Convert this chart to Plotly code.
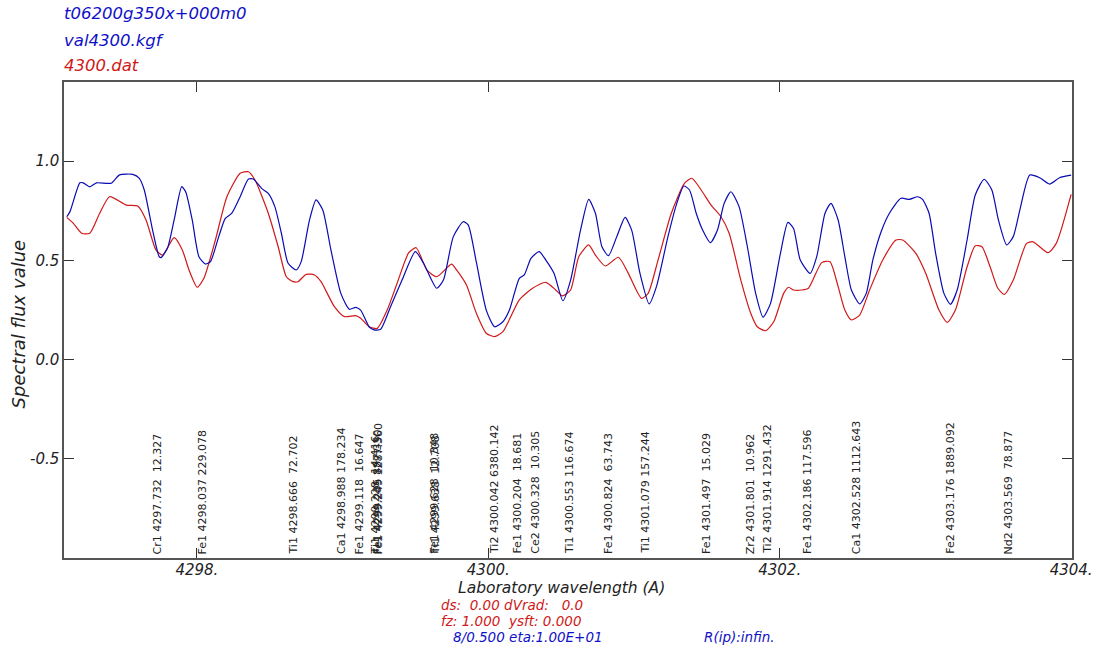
import plotly.graph_objects as go

# ---------------- data ----------------
# synthetic spectrum (blue, val4300.kgf)
syn_wl = [4297.107, 4297.129, 4297.197, 4297.220, 4297.265, 4297.311, 4297.413, 4297.469,
          4297.560, 4297.605, 4297.639, 4297.696, 4297.741, 4297.753, 4297.798, 4297.844,
          4297.896, 4297.923, 4297.968, 4298.014, 4298.059, 4298.093, 4298.150, 4298.195,
          4298.240, 4298.297, 4298.354, 4298.388, 4298.444, 4298.490, 4298.535, 4298.580,
          4298.626, 4298.682, 4298.716, 4298.773, 4298.818, 4298.864, 4298.920, 4298.988,
          4299.046, 4299.090, 4299.124, 4299.182, 4299.216, 4299.261, 4299.329, 4299.408,
          4299.499, 4299.556, 4299.646, 4299.692, 4299.760, 4299.828, 4299.862, 4299.918,
          4299.986, 4300.043, 4300.100, 4300.145, 4300.213, 4300.247, 4300.293, 4300.349,
          4300.395, 4300.451, 4300.512, 4300.565, 4300.633, 4300.689, 4300.735, 4300.780,
          4300.825, 4300.882, 4300.939, 4300.984, 4301.041, 4301.104, 4301.154, 4301.233,
          4301.290, 4301.342, 4301.381, 4301.427, 4301.471, 4301.524, 4301.573, 4301.619,
          4301.665, 4301.721, 4301.778, 4301.835, 4301.886, 4301.937, 4302.005, 4302.056,
          4302.095, 4302.141, 4302.209, 4302.254, 4302.311, 4302.352, 4302.401, 4302.447,
          4302.492, 4302.549, 4302.594, 4302.639, 4302.696, 4302.753, 4302.832, 4302.889,
          4302.946, 4302.980, 4303.025, 4303.070, 4303.127, 4303.172, 4303.218, 4303.286,
          4303.342, 4303.403, 4303.456, 4303.501, 4303.558, 4303.603, 4303.648, 4303.716,
          4303.784, 4303.852, 4303.920, 4304.000]
syn_flux = [0.719, 0.745, 0.890, 0.890, 0.870, 0.890, 0.888, 0.930,
            0.933, 0.913, 0.854, 0.652, 0.518, 0.513, 0.560, 0.703,
            0.871, 0.845, 0.703, 0.518, 0.481, 0.493, 0.619, 0.711,
            0.737, 0.820, 0.909, 0.909, 0.862, 0.837, 0.770, 0.636,
            0.485, 0.451, 0.493, 0.703, 0.804, 0.753, 0.552, 0.333,
            0.253, 0.263, 0.249, 0.165, 0.149, 0.152, 0.266, 0.400,
            0.543, 0.485, 0.359, 0.400, 0.619, 0.694, 0.678, 0.490,
            0.249, 0.165, 0.190, 0.249, 0.409, 0.426, 0.510, 0.543,
            0.501, 0.434, 0.296, 0.400, 0.652, 0.807, 0.737, 0.568,
            0.523, 0.619, 0.716, 0.652, 0.434, 0.280, 0.367, 0.619,
            0.778, 0.874, 0.854, 0.737, 0.652, 0.588, 0.652, 0.787,
            0.845, 0.770, 0.568, 0.333, 0.213, 0.283, 0.535, 0.691,
            0.660, 0.501, 0.434, 0.518, 0.737, 0.787, 0.703, 0.518,
            0.350, 0.280, 0.333, 0.501, 0.644, 0.737, 0.812, 0.807,
            0.820, 0.807, 0.737, 0.535, 0.333, 0.278, 0.350, 0.602,
            0.829, 0.908, 0.854, 0.703, 0.577, 0.619, 0.753, 0.929,
            0.916, 0.884, 0.916, 0.929]

# observed spectrum (red, 4300.dat)
obs_wl = [4297.107, 4297.152, 4297.209, 4297.265, 4297.333, 4297.401, 4297.515, 4297.594,
          4297.651, 4297.719, 4297.764, 4297.844, 4297.900, 4297.946, 4298.002, 4298.048,
          4298.127, 4298.206, 4298.297, 4298.354, 4298.399, 4298.490, 4298.558, 4298.614,
          4298.660, 4298.694, 4298.750, 4298.807, 4298.852, 4298.944, 4299.012, 4299.090,
          4299.124, 4299.182, 4299.238, 4299.306, 4299.374, 4299.454, 4299.505, 4299.578,
          4299.646, 4299.748, 4299.782, 4299.850, 4299.918, 4299.986, 4300.043, 4300.100,
          4300.213, 4300.304, 4300.395, 4300.463, 4300.508, 4300.565, 4300.621, 4300.689,
          4300.735, 4300.803, 4300.893, 4300.961, 4301.052, 4301.097, 4301.165, 4301.256,
          4301.347, 4301.397, 4301.461, 4301.529, 4301.597, 4301.653, 4301.733, 4301.801,
          4301.846, 4301.903, 4301.959, 4302.027, 4302.061, 4302.095, 4302.152, 4302.197,
          4302.288, 4302.345, 4302.401, 4302.447, 4302.492, 4302.549, 4302.617, 4302.707,
          4302.798, 4302.844, 4302.934, 4303.002, 4303.093, 4303.150, 4303.206, 4303.286,
          4303.342, 4303.388, 4303.444, 4303.497, 4303.542, 4303.603, 4303.694, 4303.739,
          4303.841, 4303.898, 4304.000]
obs_flux = [0.716, 0.686, 0.636, 0.636, 0.737, 0.820, 0.778, 0.773,
            0.703, 0.552, 0.526, 0.614, 0.552, 0.451, 0.364, 0.409,
            0.602, 0.820, 0.938, 0.946, 0.904, 0.737, 0.568, 0.417,
            0.392, 0.392, 0.429, 0.426, 0.392, 0.266, 0.216, 0.221,
            0.208, 0.165, 0.157, 0.249, 0.384, 0.538, 0.563, 0.451,
            0.417, 0.480, 0.451, 0.375, 0.233, 0.132, 0.115, 0.140,
            0.300, 0.359, 0.389, 0.350, 0.321, 0.350, 0.518, 0.577,
            0.526, 0.471, 0.515, 0.434, 0.308, 0.333, 0.501, 0.737,
            0.888, 0.913, 0.854, 0.778, 0.719, 0.636, 0.400, 0.233,
            0.165, 0.145, 0.190, 0.333, 0.364, 0.350, 0.350, 0.359,
            0.488, 0.493, 0.367, 0.249, 0.199, 0.224, 0.350, 0.501,
            0.602, 0.602, 0.535, 0.434, 0.249, 0.187, 0.249, 0.467,
            0.573, 0.568, 0.467, 0.359, 0.328, 0.400, 0.585, 0.593,
            0.538, 0.585, 0.832]

# line identifications
line_ids = ["Cr1", "Fe1", "Ti1", "Ca1", "Fe1", "Ti1", "Fe1", "Fe1", "Fe1", "Ti1",
            "Ti2", "Fe1", "Ce2", "Ti1", "Fe1", "Ti1", "Fe1", "Zr2", "Ti2", "Fe1",
            "Ca1", "Fe2", "Nd2"]
line_wl = [4297.732, 4298.037, 4298.666, 4298.988, 4299.118, 4299.228, 4299.235, 4299.249,
           4299.628, 4299.638, 4300.042, 4300.204, 4300.328, 4300.553, 4300.824, 4301.079,
           4301.497, 4301.801, 4301.914, 4302.186, 4302.528, 4303.176, 4303.569]
line_str = [12.327, 229.078, 72.702, 178.234, 16.647, 14.416, 887.350, 1287.360,
            10.348, 12.708, 6380.142, 18.681, 10.305, 116.674, 63.743, 157.244,
            15.029, 10.962, 1291.432, 117.596, 1112.643, 1889.092, 78.877]

y_tick_vals = [1.0, 0.5, 0.0, -0.5]
y_tick_text = ["1.0", "0.5", "0.0", "-0.5"]
x_tick_vals = [4298, 4300, 4302, 4304]
x_tick_text = ["4298.", "4300.", "4302.", "4304."]

# ---------------- figure ----------------
W, H = 1105, 648
L, R, T, B = 64, 23, 82, 90
PW, PH = W - L - R, H - T - B
FONT = "DejaVu Sans, Liberation Sans, Arial, sans-serif"
BLUE = "#1010c8"
RED = "#d01818"
INK = "#222"


def px(xp):
    return (xp - L) / PW


def py(yp):
    return (H - B - yp) / PH


fig = go.Figure()
fig.add_trace(go.Scatter(x=obs_wl, y=obs_flux, mode="lines",
                         line=dict(color=RED, width=1.2, shape="spline", smoothing=0.6),
                         showlegend=False, hoverinfo="skip"))
fig.add_trace(go.Scatter(x=syn_wl, y=syn_flux, mode="lines",
                         line=dict(color="#0a0ab4", width=1.2, shape="spline", smoothing=0.6),
                         showlegend=False, hoverinfo="skip"))

ann = []
# line identification labels
for lid, wl, s in zip(line_ids, line_wl, line_str):
    sval = f"{s:7.3f}".replace(" ", "\u00a0")
    txt = f"{lid}\u00a0{wl:.3f}\u00a0{sval}"
    ann.append(dict(x=wl, xref="x", y=0.004, yref="paper", text=txt, textangle=-90,
                    showarrow=False, xanchor="center", yanchor="bottom",
                    font=dict(family=FONT, size=11, color=INK)))

# header texts
for txt, yp, col in [("t06200g350x+000m0", 13, BLUE), ("val4300.kgf", 40, BLUE),
                     ("4300.dat", 66, RED)]:
    ann.append(dict(x=px(62), y=py(yp), xref="paper", yref="paper", text=txt,
                    showarrow=False, xanchor="left", yanchor="middle",
                    font=dict(family=FONT, size=16.5, color=col, style="italic")))

# axis titles and bottom parameters
ann.append(dict(x=px(18), y=py(324), xref="paper", yref="paper", text="Spectral flux value",
                textangle=-90, showarrow=False, xanchor="center", yanchor="middle",
                font=dict(family=FONT, size=18, color=INK, style="italic")))
ann.append(dict(x=px(566), y=py(588), xref="paper", yref="paper",
                text="Laboratory wavelength (A)", showarrow=False, xanchor="center",
                yanchor="middle", font=dict(family=FONT, size=15.5, color=INK, style="italic")))
for txt, xp, yp, col in [("ds:\u00a0\u00a00.00\u00a0dVrad:\u00a0\u00a0\u00a00.0", 443, 605, RED),
                         ("fz:\u00a01.000\u00a0\u00a0ysft:\u00a00.000", 443, 621, RED),
                         ("8/0.500\u00a0eta:1.00E+01", 455, 637, BLUE),
                         ("R(ip):infin.", 708, 637, BLUE)]:
    ann.append(dict(x=px(xp), y=py(yp), xref="paper", yref="paper", text=txt,
                    showarrow=False, xanchor="left", yanchor="middle",
                    font=dict(family=FONT, size=13.5, color=col, style="italic")))

fig.update_layout(
    width=W, height=H,
    margin=dict(l=L, r=R, t=T, b=B, pad=0),
    paper_bgcolor="white", plot_bgcolor="white",
    showlegend=False,
    annotations=ann,
    xaxis=dict(range=[4297.088, 4304.006], tickvals=x_tick_vals, ticktext=x_tick_text,
               ticks="inside", ticklen=10, tickcolor="#333", tickwidth=1,
               showgrid=False, zeroline=False, showline=True, linecolor="#555",
               linewidth=2, mirror="allticks", ticklabelstandoff=-3,
               tickfont=dict(family=FONT, size=15, color=INK, style="italic")),
    yaxis=dict(range=[-1.0, 1.398], tickvals=y_tick_vals, ticktext=y_tick_text,
               ticks="inside", ticklen=10, tickcolor="#333", tickwidth=1,
               showgrid=False, zeroline=False, showline=True, linecolor="#555",
               linewidth=1.5, mirror="allticks",
               tickfont=dict(family=FONT, size=15, color=INK, style="italic")),
)

fig.write_html("out.html")
